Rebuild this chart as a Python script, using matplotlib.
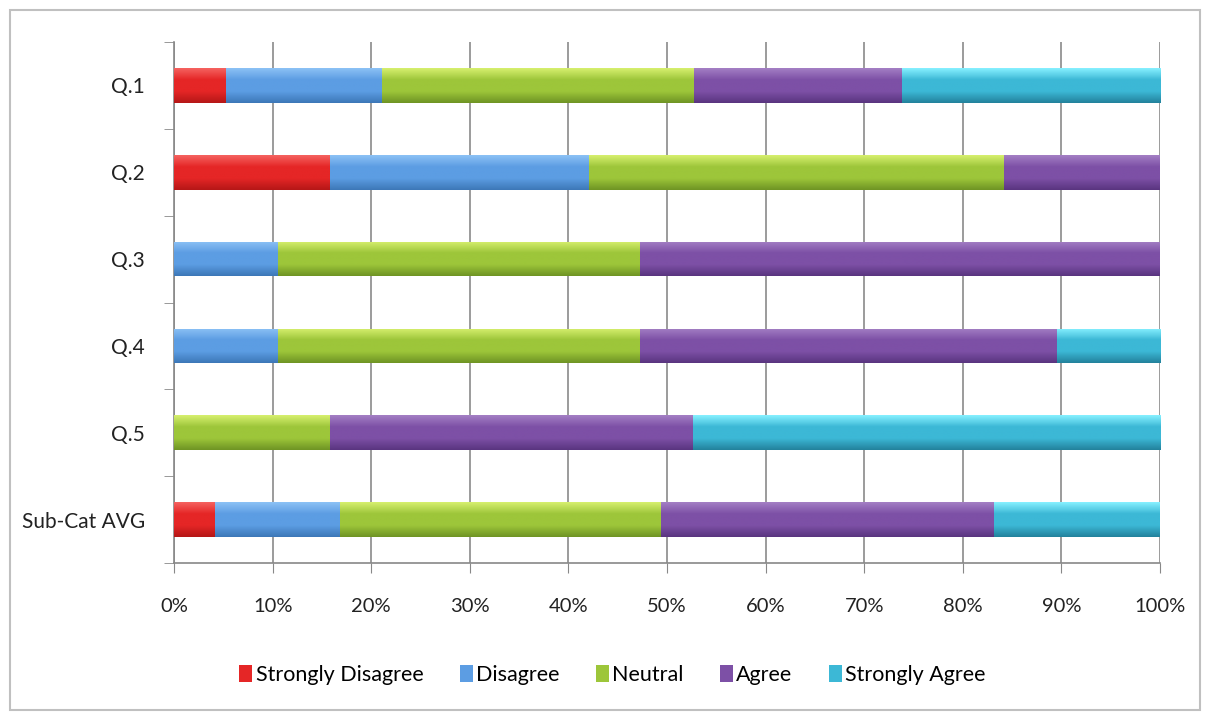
import numpy as np
import matplotlib.pyplot as plt
from matplotlib.colors import LinearSegmentedColormap
from matplotlib.patches import Rectangle

plt.rcParams['font.family'] = ['Lato', 'DejaVu Sans']

questions = ['Q.1', 'Q.2', 'Q.3', 'Q.4', 'Q.5', 'Sub-Cat AVG']
labels = ['Strongly Disagree', 'Disagree', 'Neutral', 'Agree', 'Strongly Agree']

strongly_disagree = [5.3, 15.8, 0.0, 0.0, 0.0, 4.2]
disagree = [15.8, 26.3, 10.5, 10.5, 0.0, 12.6]
neutral = [31.6, 42.1, 36.8, 36.8, 15.8, 32.6]
agree = [21.1, 15.8, 52.7, 42.2, 36.8, 33.8]
strongly_agree = [26.2, 0.0, 0.0, 10.5, 47.4, 16.8]

series = [strongly_disagree, disagree, neutral, agree, strongly_agree]
# (light top, middle, dark bottom) for the excel-like bevel look
shades = [
    ('#f5625f', '#e52626', '#b51717'),
    ('#8cc1f5', '#5c9de3', '#3d78b8'),
    ('#d6ef6e', '#9dc63a', '#6f9424'),
    ('#a37fc4', '#7d50a6', '#5a3580'),
    ('#86f0ff', '#3cb8d6', '#23829c'),
]

fig = plt.figure(figsize=(12.06, 7.16), dpi=100)
ax = fig.add_axes([0.1443, 0.2137, 0.8176, 0.7276])

y = np.arange(len(questions))
h = 0.4
left = np.zeros(len(questions))
for vals, lab, (c1, c2, c3) in zip(series, labels, shades):
    vals = np.array(vals)
    bars = ax.barh(y, vals, left=left, height=h, color=c2, label=lab,
                   edgecolor='none', zorder=2)
    cmap = LinearSegmentedColormap.from_list('g', [c1, c2, c2, c3])
    grad = np.linspace(0, 1, 64).reshape(-1, 1)
    for b, v, l, yy in zip(bars, vals, left, y):
        if v <= 0:
            continue
        im = ax.imshow(grad, cmap=cmap, aspect='auto', zorder=3,
                       extent=[l, l + v, yy + h / 2, yy - h / 2])
        im.set_clip_path(b)
    left = left + vals

ax.set_xlim(0, 100)
ax.set_ylim(len(questions) - 0.5, -0.5)
ax.set_xticks(np.arange(0, 101, 10))
ax.set_xticklabels([f'{v}%' for v in range(0, 101, 10)], fontsize=14.5, color='#222222')
ax.set_yticks(y)
ax.set_yticklabels(questions, fontsize=15, color='#222222')
ax.set_yticks(np.arange(-0.5, len(questions)), minor=True)
ax.tick_params(axis='y', which='major', length=0, pad=21)
ax.tick_params(axis='y', which='minor', length=7, color='#888888', direction='out')
ax.tick_params(axis='x', length=7, color='#888888', pad=18)
ax.grid(axis='x', color='#8a8a8a', linewidth=1.2, zorder=0)
ax.set_axisbelow(True)
for s in ['top', 'right']:
    ax.spines[s].set_visible(False)
for s in ['left', 'bottom']:
    ax.spines[s].set_color('#888888')
    ax.spines[s].set_linewidth(1.2)

ax.legend(loc='center', bbox_to_anchor=(0.508, 0.057), bbox_transform=fig.transFigure,
          ncol=5, frameon=False, fontsize=15.5, handlelength=0.6, handleheight=0.8,
          handletextpad=0.15, columnspacing=1.7)

fig.patches.append(Rectangle((10 / 1206, 6 / 716), 1190 / 1206, 700 / 716,
                             transform=fig.transFigure, fill=False,
                             edgecolor='#c0c0c0', linewidth=1.5))

fig.savefig('out.png', dpi=100)
